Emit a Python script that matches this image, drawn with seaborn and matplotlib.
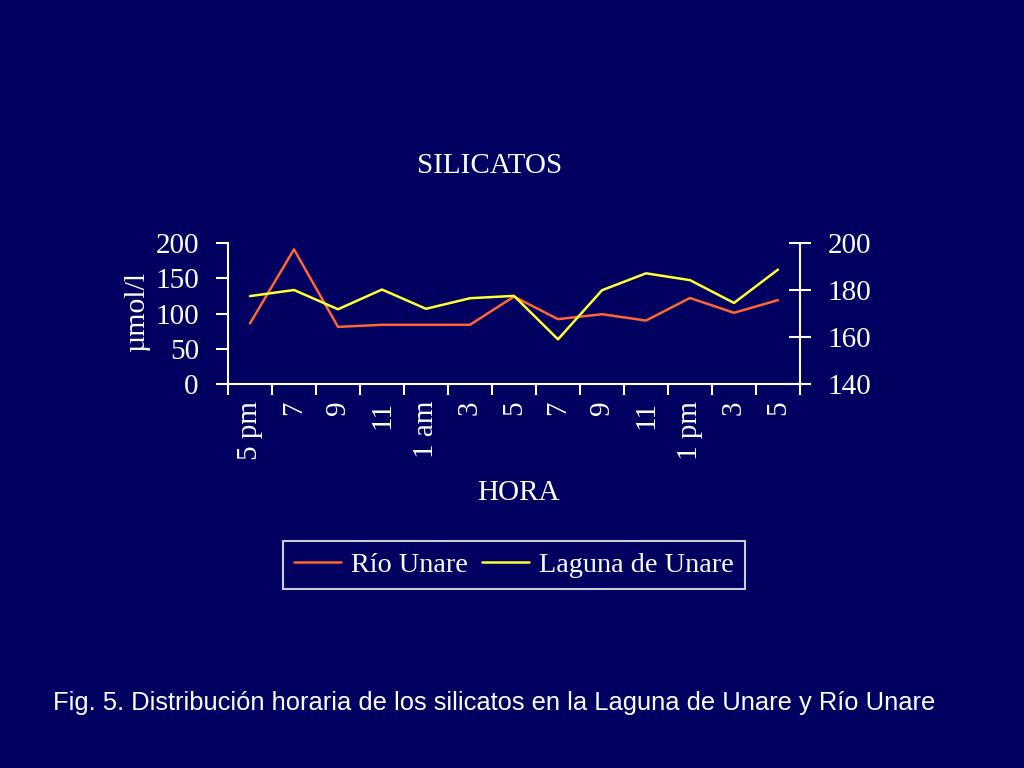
import matplotlib
matplotlib.use("Agg")
import matplotlib.pyplot as plt
import seaborn as sns
import pandas as pd
import numpy as np

horas = ["5 pm", "7", "9", "11", "1 am", "3", "5", "7", "9", "11", "1 pm", "3", "5"]
rio_unare = [86, 191, 81, 84, 84, 84, 124, 92, 99, 90, 122, 101, 119]
laguna_unare = [177.4, 180.0, 171.8, 180.2, 172.0, 176.5, 177.5, 159.0, 179.9, 187.1, 184.2, 174.5, 188.7]

BG = "#000060"
FG = "white"

sns.set_theme(style="white")
plt.rcParams["font.family"] = ["Liberation Serif", "DejaVu Serif"]

df = pd.DataFrame({"pos": np.arange(len(horas)), "rio": rio_unare, "laguna": laguna_unare})

fig = plt.figure(figsize=(10.24, 7.68), dpi=100, facecolor=BG)
ax = fig.add_axes([228/1024, 1-384/768, 572/1024, 141/768])
ax.set_facecolor(BG)
ax2 = ax.twinx()

sns.lineplot(data=df, x="pos", y="rio", ax=ax, color="#FF6633", linewidth=1.8, label="Río Unare", legend=False)
sns.lineplot(data=df, x="pos", y="laguna", ax=ax2, color="#FFFF33", linewidth=1.8, label="Laguna de Unare", legend=False)

ax.set_xlim(-0.5, len(horas) - 0.5)
ax.set_ylim(0, 200)
ax2.set_ylim(140, 200)
ax.set_yticks([0, 50, 100, 150, 200])
ax2.set_yticks([140, 160, 180, 200])

# x ticks: marks at boundaries, labels at centers
ax.set_xticks(np.arange(-0.5, len(horas), 1.0))
ax.set_xticklabels([])
ax.set_xticks(np.arange(len(horas)), minor=True)
ax.set_xticklabels(horas, minor=True, rotation=90, fontsize=21, color=FG, va="top")
ax.tick_params(axis="x", which="major", direction="out", length=8, width=1.5, color=FG, bottom=True)
ax.tick_params(axis="x", which="minor", length=0, pad=12)

ax.tick_params(axis="y", direction="out", length=9, width=1.5, color=FG, labelcolor=FG, labelsize=21, left=True, pad=12)
ax2.tick_params(axis="y", direction="inout", length=16, width=1.5, color=FG, labelcolor=FG, labelsize=21, right=True, pad=12)

for a in (ax, ax2):
    a.spines["top"].set_visible(False)
    a.spines["left"].set_visible(a is ax)
    a.spines["right"].set_visible(a is ax2)
    a.spines["bottom"].set_visible(a is ax)
    for s in a.spines.values():
        s.set_color(FG)
        s.set_linewidth(1.5)

ax.set_xlabel("")
ax.set_ylabel("")
ax2.set_ylabel("")

fig.text(490/1024, 1-166/768, "SILICATOS", color=FG, fontsize=21, ha="center", va="center")
fig.text(518/1024, 1-493/768, "HORA", color=FG, fontsize=21, ha="center", va="center")
fig.text(137/1024, 1-312/768, "µmol/l", color=FG, fontsize=21.5, ha="center", va="center", rotation=90)

h1, l1 = ax.get_legend_handles_labels()
h2, l2 = ax2.get_legend_handles_labels()
leg = fig.legend(h1 + h2, l1 + l2, loc="center", bbox_to_anchor=(514/1024, 1-565/768), ncol=2,
                 frameon=True, fancybox=False, facecolor=BG, edgecolor=FG, fontsize=20.3,
                 handlelength=1.68, columnspacing=0.5, handletextpad=0.35, borderpad=0.4,
                 borderaxespad=0)
leg.get_frame().set_linewidth(1.5)
for t in leg.get_texts():
    t.set_color(FG)

fig.text(494/1024, 1-703/768, "Fig. 5. Distribución horaria de los silicatos en la Laguna de Unare y Río Unare",
         color=FG, fontsize=18.4, ha="center", va="center", family=["Liberation Sans", "DejaVu Sans"])

fig.savefig("out.png", dpi=100, facecolor=BG)
